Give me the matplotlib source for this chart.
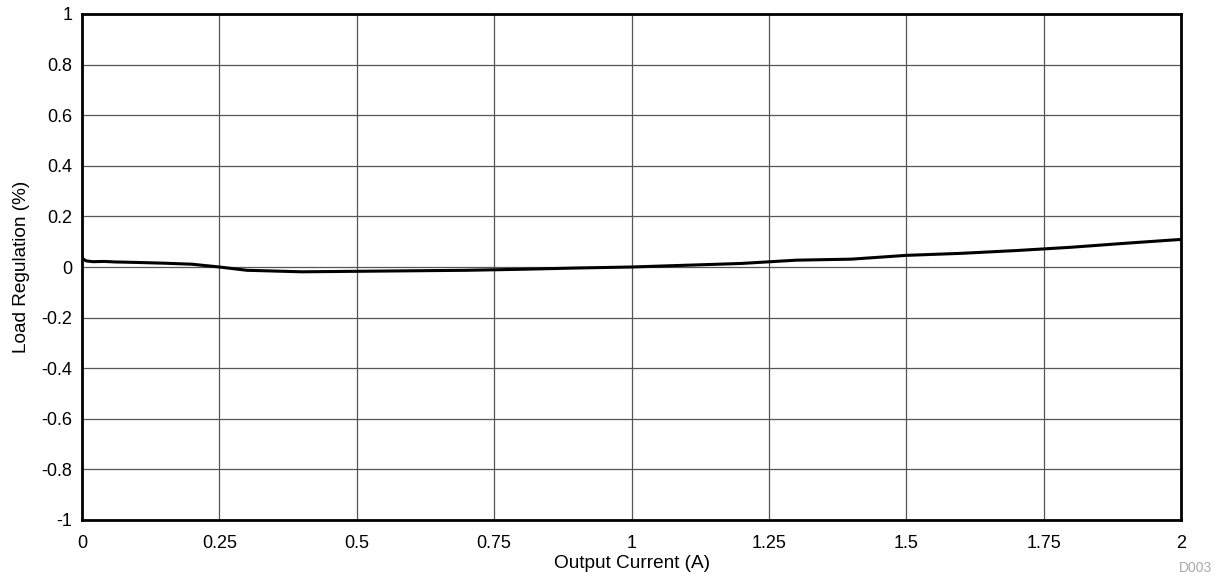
import matplotlib
matplotlib.use("Agg")
import matplotlib.pyplot as plt

plt.rcParams['font.family'] = ['Liberation Sans', 'DejaVu Sans']

current = [0.0, 0.003, 0.008, 0.02, 0.04, 0.06, 0.08, 0.1, 0.15, 0.2, 0.25, 0.3, 0.4, 0.5,
           0.6, 0.7, 0.8, 0.9, 1.0, 1.1, 1.2, 1.3, 1.4, 1.5, 1.6, 1.7, 1.8, 1.9, 2.0]
regulation = [0.037, 0.03, 0.024, 0.021, 0.022, 0.02, 0.019, 0.018, 0.015, 0.011, 0.0, -0.013,
              -0.019, -0.017, -0.015, -0.013, -0.009, -0.004, 0.0, 0.007, 0.014, 0.027, 0.031,
              0.046, 0.054, 0.065, 0.078, 0.094, 0.109]

xticks = [0, 0.25, 0.5, 0.75, 1, 1.25, 1.5, 1.75, 2]
xticklabels = ['0', '0.25', '0.5', '0.75', '1', '1.25', '1.5', '1.75', '2']
yticks = [-1, -0.8, -0.6, -0.4, -0.2, 0, 0.2, 0.4, 0.6, 0.8, 1]
yticklabels = ['-1', '-0.8', '-0.6', '-0.4', '-0.2', '0', '0.2', '0.4', '0.6', '0.8', '1']

fig = plt.figure(figsize=(12.21, 5.83), dpi=100)
ax = fig.add_axes([82/1221, 63/583, 1099/1221, 506/583])
ax.plot(current, regulation, color='black', linewidth=2.2, zorder=3)
ax.set_xlim(0, 2)
ax.set_ylim(-1, 1)
ax.set_xticks(xticks)
ax.set_xticklabels(xticklabels)
ax.set_yticks(yticks)
ax.set_yticklabels(yticklabels)
ax.grid(True, color='#555555', linewidth=0.9)
ax.tick_params(length=0, labelsize=13)
ax.tick_params(axis='x', pad=11)
ax.tick_params(axis='y', pad=7)
for s in ax.spines.values():
    s.set_linewidth(2)
    s.set_color('black')
ax.set_xlabel('Output Current (A)', fontsize=13.7, labelpad=2)
ax.set_ylabel('Load Regulation (%)', fontsize=13.7, labelpad=8)
fig.text(1212/1221, 1 - 568/583, 'D003', fontsize=10, color='#aaaaaa', ha='right', va='center')
fig.savefig('out.png', dpi=100)
